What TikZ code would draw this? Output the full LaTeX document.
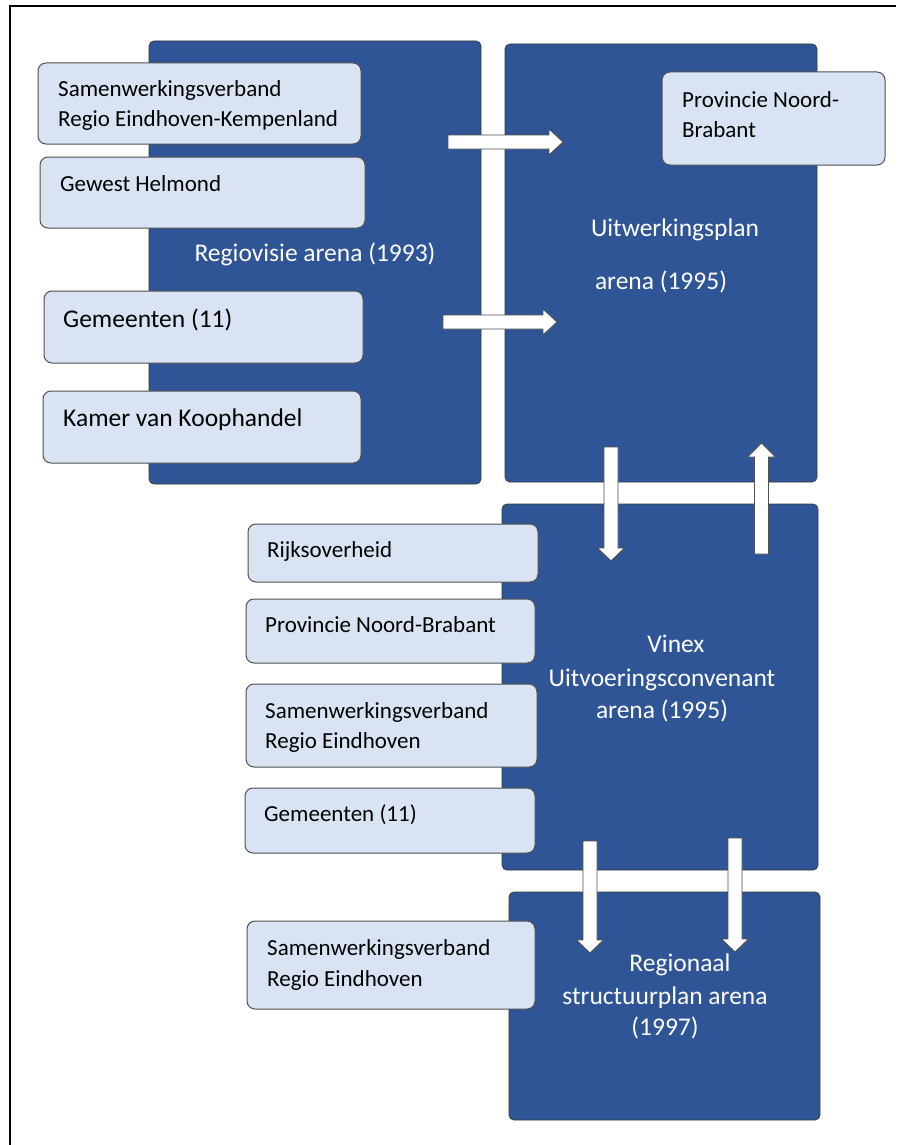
\documentclass[tikz,border=0pt]{standalone}
\usepackage{fontspec}
\setmainfont{Carlito}
\usetikzlibrary{calc}
\definecolor{arenablue}{HTML}{2F5597}
\definecolor{actorblue}{HTML}{DAE3F3}
\definecolor{edgegray}{HTML}{505050}
\definecolor{arenaedge}{HTML}{3A3A3A}
\newcommand{\blockright}[2]{%
  \draw[blockarrow] ($(#1)+(0,-7)$) -- ($(#2)+(-14,-7)$) -- ($(#2)+(-14,-13)$) -- (#2)
    -- ($(#2)+(-14,13)$) -- ($(#2)+(-14,7)$) -- ($(#1)+(0,7)$) -- cycle;}
\newcommand{\blockdown}[2]{%
  \draw[blockarrow] ($(#1)+(-7,0)$) -- ($(#2)+(-7,-13)$) -- ($(#2)+(-13.5,-13)$) -- (#2)
    -- ($(#2)+(13.5,-13)$) -- ($(#2)+(7,-13)$) -- ($(#1)+(7,0)$) -- cycle;}
\newcommand{\blockup}[2]{%
  \draw[blockarrow] ($(#1)+(-7,0)$) -- ($(#2)+(-7,14)$) -- ($(#2)+(-14,14)$) -- (#2)
    -- ($(#2)+(14,14)$) -- ($(#2)+(7,14)$) -- ($(#1)+(7,0)$) -- cycle;}
\begin{document}
\begin{tikzpicture}[x=1pt,y=-1pt,
  arena/.style={draw=arenaedge, line width=0.8pt, fill=arenablue, rounded corners=5pt,
    anchor=north west, inner sep=0pt, outer sep=0pt},
  actor/.style={draw=edgegray, line width=1pt, fill=actorblue, rounded corners=8pt,
    anchor=north west, inner sep=0pt, outer sep=0pt},
  blockarrow/.style={draw=edgegray, line width=0.9pt, fill=white, line join=miter},
  lbl/.style={anchor=base west, inner sep=0pt, font=\fontsize{23}{28}\selectfont, text=black},
  biglbl/.style={anchor=base west, inner sep=0pt, font=\fontsize{25.5}{30}\selectfont, text=black},
  wlbl/.style={anchor=base, inner sep=0pt, font=\fontsize{25.5}{30}\selectfont, text=white}]
\useasboundingbox (0,0) rectangle (898,1145);
\draw[line width=2pt] (10,1145) -- (10,6) -- (896,6);

% arenas
\node[arena, minimum width=332, minimum height=443] (A) at (149,41) {};
\node[arena, minimum width=312, minimum height=438] (B) at (505,44) {};
\node[arena, minimum width=316, minimum height=366] (C) at (502,504) {};
\node[arena, minimum width=311, minimum height=228] (D) at (509,892) {};

% arrows
\coordinate (a1s) at (448,142);
\coordinate (a1e) at (563,142);
\coordinate (a2s) at (443,322);
\coordinate (a2e) at (557,322);
\coordinate (a3s) at (611,447);
\coordinate (a3e) at (611,561);
\coordinate (a4s) at (761.5,554);
\coordinate (a4e) at (761.5,443);
\coordinate (a5s) at (590,841);
\coordinate (a5e) at (590,953);
\coordinate (a6s) at (735,838);
\coordinate (a6e) at (735,952);
\blockright{a1s}{a1e}
\blockright{a2s}{a2e}
\blockdown{a3s}{a3e}
\blockup{a4s}{a4e}
\blockdown{a5s}{a5e}
\blockdown{a6s}{a6e}

% arena titles
\node[wlbl] (tA) at (315,261) {Regiovisie arena (1993)};
\node[wlbl] (tB1) at (675,236) {Uitwerkingsplan};
\node[wlbl] (tB2) at (661,289) {arena (1995)};
\node[wlbl] (tC1) at (676,652) {Vinex};
\node[wlbl] (tC2) at (662,686) {Uitvoeringsconvenant};
\node[wlbl] (tC3) at (662,718) {arena (1995)};
\node[wlbl] (tD1) at (680,971) {Regionaal};
\node[wlbl] (tD2) at (665,1004) {structuurplan arena};
\node[wlbl] (tD3) at (665,1035) {(1997)};

% actors regiovisie
\node[actor, minimum width=323, minimum height=81] (L1) at (38,63) {};
\node[lbl] (L1a) at (58,97) {Samenwerkingsverband};
\node[lbl] (L1b) at (58,127) {Regio Eindhoven-Kempenland};
\node[actor, minimum width=325, minimum height=71] (L2) at (40,157) {};
\node[lbl] (L2a) at (60,191) {Gewest Helmond};
\node[actor, minimum width=319, minimum height=72] (L3) at (44,291) {};
\node[biglbl] (L3a) at (63,327) {Gemeenten (11)};
\node[actor, minimum width=318, minimum height=72] (L4) at (43,391) {};
\node[biglbl] (L4a) at (63,426) {Kamer van Koophandel};

% actor uitwerkingsplan
\node[actor, minimum width=223, minimum height=93] (P) at (662,72) {};
\node[lbl] (Pa) at (682,108) {Provincie Noord-};
\node[lbl] (Pb) at (682,137) {Brabant};

% actors vinex
\node[actor, minimum width=290, minimum height=58] (R1) at (248,524) {};
\node[lbl] (R1a) at (267,557) {Rijksoverheid};
\node[actor, minimum width=289, minimum height=64] (R2) at (246,599) {};
\node[lbl] (R2a) at (265,632) {Provincie Noord-Brabant};
\node[actor, minimum width=291, minimum height=83] (R3) at (246,684) {};
\node[lbl] (R3a) at (265,718) {Samenwerkingsverband};
\node[lbl] (R3b) at (265,748) {Regio Eindhoven};
\node[actor, minimum width=290, minimum height=65] (R4) at (245,788) {};
\node[lbl] (R4a) at (264,821) {Gemeenten (11)};

% actor regionaal
\node[actor, minimum width=288, minimum height=88] (S) at (247,921) {};
\node[lbl] (Sa) at (267,955) {Samenwerkingsverband};
\node[lbl] (Sb) at (267,986) {Regio Eindhoven};
\end{tikzpicture}
\end{document}
